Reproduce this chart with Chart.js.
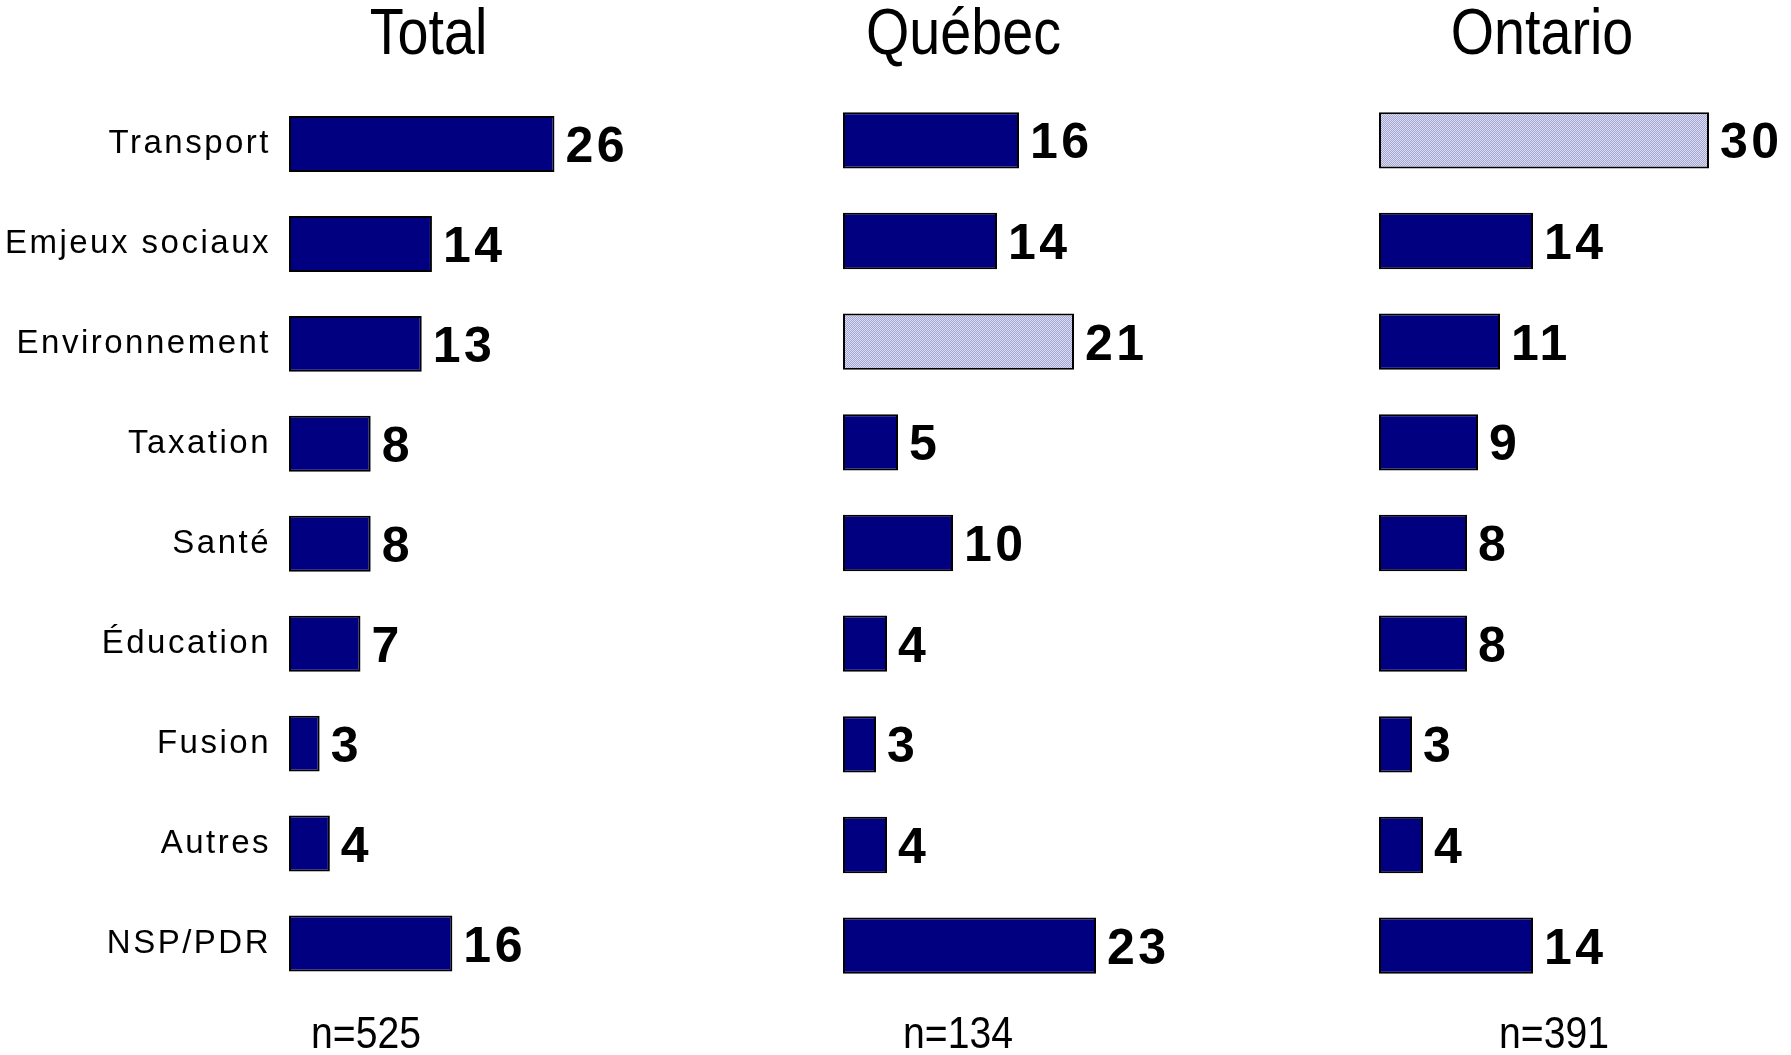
<!DOCTYPE html>
<html>
<head>
<meta charset="utf-8">
<script src="https://cdn.jsdelivr.net/npm/chart.js@4.4.1/dist/chart.umd.min.js"></script>
<style>
html, body { margin: 0; padding: 0; background: #ffffff; }
body { width: 1791px; height: 1055px; position: relative; overflow: hidden; }
canvas { position: absolute; top: 0; }
</style>
</head>
<body>
<canvas id="cTotal" width="700" height="1055" style="left:0px"></canvas>
<canvas id="cQuebec" width="500" height="1055" style="left:823px"></canvas>
<canvas id="cOntario" width="432" height="1055" style="left:1359px"></canvas>
<script>
// ---- data ----
const categories = ['Transport', 'Emjeux sociaux', 'Environnement', 'Taxation', 'Santé', 'Éducation', 'Fusion', 'Autres', 'NSP/PDR'];
const totalValues = [26, 14, 13, 8, 8, 7, 3, 4, 16];
const quebecValues = [16, 14, 21, 5, 10, 4, 3, 4, 23];
const ontarioValues = [30, 14, 11, 9, 8, 8, 3, 4, 14];
const panelTitles = ['Total', 'Québec', 'Ontario'];
const sampleSizes = ['n=525', 'n=134', 'n=391'];
const highlightedCategory = [null, 'Environnement', 'Transport'];

// ---- styles ----
const NAVY = '#000080';
const SANS = '"Liberation Sans", Arial, Helvetica, sans-serif';
const condense = 0.87;

function makePattern() {
  const c = document.createElement('canvas');
  c.width = 4; c.height = 4;
  const g = c.getContext('2d');
  g.fillStyle = '#dcdcf0';
  g.fillRect(0, 0, 4, 4);
  g.fillStyle = '#a4a6d4';
  for (let y = 0; y < 4; y++) {
    for (let x = 0; x < 4; x++) {
      if ((x + y) % 2 === 0) g.fillRect(x, y, 1, 1);
    }
  }
  return g.createPattern(c, 'repeat');
}

const valueLabels = {
  id: 'valueLabels',
  afterDatasetsDraw(chart) {
    const ctx = chart.ctx;
    const meta = chart.getDatasetMeta(0);
    const data = chart.data.datasets[0].data;
    ctx.save();
    ctx.letterSpacing = '3.5px';
    ctx.font = 'bold 50px ' + SANS;
    ctx.fillStyle = '#000000';
    ctx.textAlign = 'left';
    ctx.textBaseline = 'alphabetic';
    meta.data.forEach((bar, i) => {
      ctx.fillText(String(data[i]), bar.x + 11, bar.y + 18);
    });
    ctx.restore();
  }
};

const tickSpacing = {
  id: 'tickSpacing',
  beforeDraw(chart) { chart.ctx.letterSpacing = '2.5px'; },
  afterDraw(chart) { chart.ctx.letterSpacing = '0px'; }
};

const panelText = {
  id: 'panelText',
  afterDraw(chart, args, opts) {
    const ctx = chart.ctx;
    const a = chart.chartArea;
    ctx.save();
    ctx.letterSpacing = '0px';
    ctx.fillStyle = '#000000';
    ctx.textAlign = 'center';
    ctx.textBaseline = 'alphabetic';
    const draw = (txt, x, y, size) => {
      ctx.save();
      ctx.translate(x, y);
      ctx.scale(condense, 1);
      ctx.font = size + 'px ' + SANS;
      ctx.fillText(txt, 0, 0);
      ctx.restore();
    };
    draw(opts.title, a.left + opts.titleDx, 54, 64);
    draw(opts.note, a.left + opts.noteDx, 1048, 45);
    ctx.restore();
  }
};

function buildChart(id, values, idx, cfg) {
  const pattern = makePattern();
  const colors = categories.map(c => c === highlightedCategory[idx] ? pattern : NAVY);
  return new Chart(document.getElementById(id), {
    type: 'bar',
    data: {
      labels: categories,
      datasets: [{
        data: values,
        backgroundColor: colors,
        borderColor: '#000000',
        borderWidth: 2,
        borderSkipped: false,
        barPercentage: 0.56,
        categoryPercentage: 1.0
      }]
    },
    options: {
      indexAxis: 'y',
      responsive: false,
      animation: false,
      events: [],
      layout: { padding: cfg.padding },
      scales: {
        x: { type: 'linear', min: 0, max: 30, display: false },
        y: {
          display: cfg.showLabels,
          grid: { display: false },
          border: { display: false },
          ticks: {
            autoSkip: false,
            color: '#000000',
            padding: 10,
            font: { family: SANS, size: 33 }
          },
          afterFit: cfg.showLabels ? (s) => { s.width = cfg.axisWidth; } : undefined
        }
      },
      plugins: {
        legend: { display: false },
        tooltip: { enabled: false },
        title: { display: false },
        panelText: { title: panelTitles[idx], note: sampleSizes[idx], titleDx: cfg.titleDx, noteDx: cfg.noteDx }
      }
    },
    plugins: [tickSpacing, valueLabels, panelText]
  });
}

buildChart('cTotal', totalValues, 0, {
  showLabels: true, axisWidth: 289,
  padding: { left: 0, right: 104.7, top: 94, bottom: 61.5 },
  titleDx: 139.5, noteDx: 77
});
buildChart('cQuebec', quebecValues, 1, {
  showLabels: false,
  padding: { left: 20, right: 150, top: 90, bottom: 59 },
  titleDx: 120.5, noteDx: 115
});
buildChart('cOntario', ontarioValues, 2, {
  showLabels: false,
  padding: { left: 20, right: 82, top: 90, bottom: 59 },
  titleDx: 163, noteDx: 175
});
</script>
</body>
</html>
